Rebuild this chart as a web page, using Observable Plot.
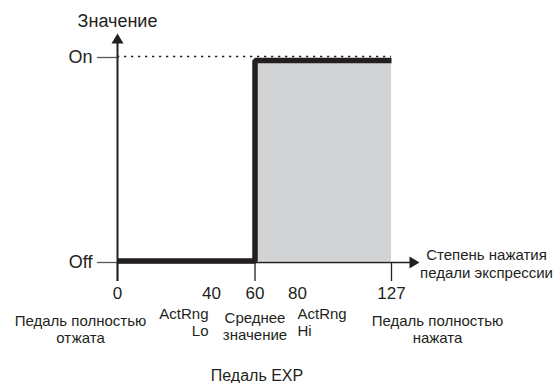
<!DOCTYPE html>
<html>
<head>
<meta charset="utf-8">
<script src="https://cdn.jsdelivr.net/npm/d3@7"></script>
<script src="https://cdn.jsdelivr.net/npm/@observablehq/plot@0.6"></script>
<style>
  html, body { margin: 0; padding: 0; background: #fff; }
  #chart svg { display: block; }
</style>
</head>
<body>
<div id="chart"></div>
<script>
// ---- data ----
const stepX = [0, 60, 60, 127];          // pedal position
const stepY = [0, 0, 1, 1];              // 0 = Off, 1 = On
const levelNames = ["Off", "On"];
const levelValues = [0, 1];
const fillX = [60, 127];                 // "On" zone (shaded)
const tickLabels = [0, 40, 60, 80, 127]; // numbers below the axis
const tickMarks = [0, 60, 127];          // tick marks below the axis
const yTitle = "Значение";
const xTitle = "Степень нажатия\nпедали экспрессии";
const caption = "Педаль EXP";
const lblReleased = "Педаль полностью\nотжата";
const lblLo = "ActRng\nLo";
const lblMid = "Среднее\nзначение";
const lblHi = "ActRng\nHi";
const lblPressed = "Педаль полностью\nнажата";

const ink = "#231f20";
const font = "'Liberation Sans', Arial, Helvetica, sans-serif";

// custom filled arrowheads
const triUp = {draw(ctx) { ctx.moveTo(0, -5); ctx.lineTo(6, 5); ctx.lineTo(-6, 5); ctx.closePath(); }};
const triRight = {draw(ctx) { ctx.moveTo(5, 0); ctx.lineTo(-5, 6); ctx.lineTo(-5, -6); ctx.closePath(); }};

const chart = Plot.plot({
  width: 558,
  height: 383,
  marginLeft: 117,
  marginRight: 167,
  marginTop: 60,
  marginBottom: 122.5,
  style: {fontFamily: font, color: ink, background: "#fff"},
  // schematic (piecewise-linear) pedal axis
  x: {type: "linear", domain: [0, 40, 60, 80, 127], range: [117, 211, 254.5, 297, 391], axis: null},
  y: {type: "linear", domain: [0, 1], axis: null},
  marks: [
    // shaded On zone
    Plot.rect([fillX], {x1: d => d[0], x2: d => d[1], y1: 0, y2: 1, fill: "#d1d3d4", insetBottom: -1}),
    // dotted On reference
    Plot.ruleY([1], {x1: 0, x2: 127, dy: -4, stroke: ink, strokeWidth: 1.3, strokeDasharray: "2.3,4.7"}),
    // On / Off ticks left of the y axis
    Plot.ruleY([1], {x1: 0, x2: 0, insetLeft: -20, dy: -3, stroke: "#58595b", strokeWidth: 1.3}),
    Plot.ruleY([0], {x1: 0, x2: 0, insetLeft: -20, dy: 1.5, stroke: "#58595b", strokeWidth: 1.3}),
    // x axis line + arrow
    Plot.ruleY([0], {x1: 0, x2: 127, insetRight: -19, dy: 1.5, stroke: ink, strokeWidth: 1.5}),
    Plot.dot([127], {x: d => d, y: 0, dx: 23, dy: 1.5, symbol: triRight, fill: ink, stroke: null}),
    // tick marks below x axis
    Plot.axisX({ticks: tickMarks, tickSize: 19, tickFormat: () => "", label: null, stroke: ink, strokeWidth: 1.3, dy: 1.5}),
    // y axis line + arrow
    Plot.ruleX([0], {insetTop: -18, insetBottom: -20.5, stroke: ink, strokeWidth: 2}),
    Plot.dot([0], {x: d => d, frameAnchor: "top", dy: -22, symbol: triUp, fill: ink, stroke: null}),
    // step line
    Plot.line(stepX.map((x, i) => ({x, y: stepY[i]})), {x: "x", y: "y", stroke: ink, strokeWidth: 5.5, strokeLinejoin: "miter", strokeLinecap: "butt"}),
    // y level labels
    Plot.text([levelValues[1]], {x: 0, y: d => d, text: d => levelNames[d], dx: -25, dy: -3, textAnchor: "end", lineAnchor: "middle", fontSize: 18, fill: ink}),
    Plot.text([levelValues[0]], {x: 0, y: d => d, text: d => levelNames[d], dx: -25, dy: 1.5, textAnchor: "end", lineAnchor: "middle", fontSize: 18, fill: ink}),
    // numbers
    Plot.text(tickLabels, {x: d => d, y: 0, text: d => String(d), dy: 32.5, lineAnchor: "middle", fontSize: 17, fill: ink}),
    // titles
    Plot.text([yTitle], {x: 0, frameAnchor: "top", text: d => d, dy: -34, lineAnchor: "bottom", fontSize: 18, fill: ink}),
    Plot.text([xTitle], {x: 127, y: 0, text: d => d, dx: 95, dy: 16.5, lineAnchor: "bottom", lineHeight: 1.2, fontSize: 15, fill: ink}),
    // descriptive labels under the axis
    Plot.text([lblReleased], {x: 0, y: 0, text: d => d, dx: -37, dy: 81.5, lineAnchor: "bottom", lineHeight: 1.13, fontSize: 15, fill: ink}),
    Plot.text([lblLo], {x: 40, y: 0, text: d => d, dx: -3, dy: 74.5, textAnchor: "end", lineAnchor: "bottom", lineHeight: 1.13, fontSize: 15, fill: ink}),
    Plot.text([lblMid], {x: 60, y: 0, text: d => d, dx: 0, dy: 78.5, lineAnchor: "bottom", lineHeight: 1.13, fontSize: 15, fill: ink}),
    Plot.text([lblHi], {x: 80, y: 0, text: d => d, dx: 0, dy: 74.5, textAnchor: "start", lineAnchor: "bottom", lineHeight: 1.13, fontSize: 15, fill: ink}),
    Plot.text([lblPressed], {x: 127, y: 0, text: d => d, dx: 46, dy: 81.5, lineAnchor: "bottom", lineHeight: 1.13, fontSize: 15, fill: ink}),
    Plot.text([caption], {x: 60, y: 0, text: d => d, dx: 2, dy: 119.5, lineAnchor: "bottom", fontSize: 16, fill: ink})
  ]
});
document.getElementById("chart").appendChild(chart);
</script>
</body>
</html>
